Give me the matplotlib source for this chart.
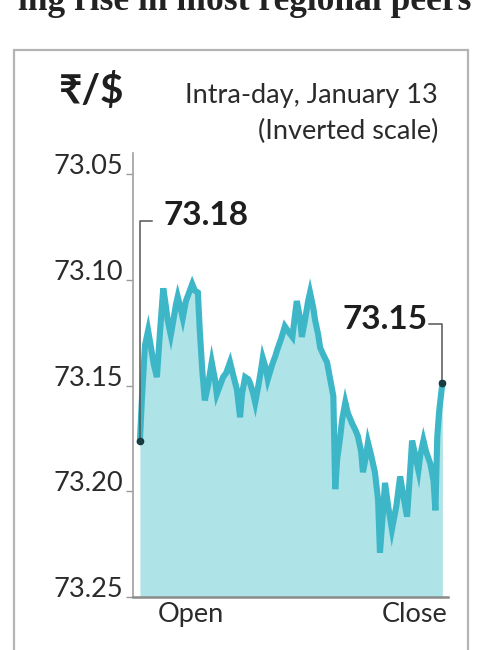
import matplotlib.pyplot as plt
from matplotlib.patches import Rectangle

# minutes since open and the rupee/dollar rate
minutes = [0, 3, 8, 13, 17, 22, 27, 32, 37, 41, 44, 49, 52, 57, 60, 65, 68, 73, 78, 83,
           87, 92, 95, 99, 103, 108, 114, 119, 122, 127, 132, 137, 143, 148, 154, 159, 162,
           167, 172, 175, 180, 183, 188, 192, 195, 200, 203, 210, 215, 218, 224, 230, 237,
           242, 246, 249, 254, 257, 262, 267, 270, 275, 278, 283, 286, 292, 297, 302, 307,
           310, 313, 318, 321, 326, 330, 337, 342, 346, 351, 354, 359, 362, 367, 373, 378,
           381, 386, 389, 394, 400, 407, 413, 418, 424, 429, 432, 437, 442, 445, 450, 454,
           461, 466, 469, 472, 475, 480]
rate = [73.176, 73.157, 73.131, 73.124, 73.131, 73.140, 73.146, 73.124, 73.104, 73.112,
        73.119, 73.126, 73.121, 73.112, 73.108, 73.114, 73.118, 73.110, 73.106, 73.102,
        73.105, 73.106, 73.124, 73.143, 73.157, 73.150, 73.139, 73.147, 73.154, 73.150,
        73.146, 73.144, 73.139, 73.145, 73.152, 73.165, 73.154, 73.146, 73.147, 73.149,
        73.154, 73.158, 73.150, 73.143, 73.137, 73.142, 73.147, 73.140, 73.136, 73.133,
        73.128, 73.122, 73.125, 73.127, 73.117, 73.110, 73.118, 73.127, 73.119, 73.110,
        73.106, 73.113, 73.119, 73.126, 73.132, 73.136, 73.139, 73.147, 73.155, 73.199,
        73.185, 73.174, 73.166, 73.158, 73.163, 73.168, 73.171, 73.174, 73.181, 73.191,
        73.183, 73.177, 73.183, 73.191, 73.204, 73.229, 73.209, 73.196, 73.207, 73.218,
        73.207, 73.193, 73.202, 73.212, 73.190, 73.176, 73.183, 73.190, 73.183, 73.176,
        73.181, 73.187, 73.195, 73.209, 73.174, 73.162, 73.149]
yticks = [73.05, 73.10, 73.15, 73.20, 73.25]
open_label = "73.18"
close_label = "73.15"

W, H = 481, 650
FONT = ['Lato', 'DejaVu Sans']
TXT = '#2b2b2b'
plt.rcParams['font.family'] = FONT


def fx(px):
    return px / W


def fy(py):
    return 1 - py / H


fig = plt.figure(figsize=(W / 100, H / 100), dpi=100)
fig.patch.set_facecolor('white')

# card border and the cut-off headline above it
fig.patches.append(Rectangle((fx(14), fy(670)), fx(468) - fx(14), fy(50) - fy(670),
                             transform=fig.transFigure, fill=False,
                             edgecolor='#b4b4b4', linewidth=1.6))
fig.text(fx(18), fy(10), "ing rise in most regional peers", family='Liberation Serif',
         fontweight='bold', fontsize=25.5, color='#222222', va='baseline', ha='left')

fig.text(fx(59), fy(103), "₹/$", fontsize=29, fontweight='bold', color='#1e1e1e',
         va='baseline', ha='left', family=['Lato', 'DejaVu Sans'])
fig.text(fx(438), fy(103), "Intra-day, January 13", fontsize=19.5, color=TXT,
         va='baseline', ha='right')
fig.text(fx(438), fy(139), "(Inverted scale)", fontsize=19.5, color=TXT,
         va='baseline', ha='right')

ax = fig.add_axes([fx(133), fy(597), fx(448) - fx(133), fy(153) - fy(597)])
ax.fill_between(minutes, rate, yticks[-1], color='#aee3e7', linewidth=0)
ax.plot(minutes, rate, color='#3db7c8', linewidth=4.4, solid_joinstyle='miter')
ax.set_xlim(-11, 489)
ax.set_ylim(yticks[-1], 73.04)

ax.set_yticks(yticks)
ax.set_yticklabels([f"{v:.2f}" for v in yticks], fontsize=19.5, color=TXT)
for lab in ax.get_yticklabels():
    lab.set_va('baseline')
ax.tick_params(axis='y', length=5, width=1, color='#9a9a9a', pad=2)
ax.set_xticks([])
for side in ['top', 'right']:
    ax.spines[side].set_visible(False)
ax.spines['left'].set_color('#a0a0a0')
ax.spines['left'].set_linewidth(1.2)
ax.spines['bottom'].set_color('#8a8a8a')
ax.spines['bottom'].set_linewidth(1.8)
ax.set_facecolor('none')

# open / close markers with bracket leaders
ax.plot([minutes[0], minutes[-1]], [rate[0], rate[-1]], 'o', color='#183c42',
        markersize=4.5, zorder=5)
y_open_lbl = 73.072
y_close_lbl = 73.121
ax.plot([minutes[0] + 19, minutes[0], minutes[0]], [y_open_lbl, y_open_lbl, rate[0]],
        color='#555555', linewidth=1.1, zorder=4)
ax.plot([minutes[-1] - 21, minutes[-1], minutes[-1]], [y_close_lbl, y_close_lbl, rate[-1]],
        color='#555555', linewidth=1.1, zorder=4)
ax.annotate(open_label, (minutes[0] + 19, y_open_lbl), xytext=(8, -3),
            textcoords='offset points', fontsize=24, fontweight='bold', color='#1e1e1e',
            va='baseline', ha='left')
ax.annotate(close_label, (minutes[-1] - 21, y_close_lbl), xytext=(-1, -3.5),
            textcoords='offset points', fontsize=24, fontweight='bold', color='#1e1e1e',
            va='baseline', ha='right')

ax.text(0.079, -0.012, "Open", transform=ax.transAxes, fontsize=19.5, color=TXT,
        ha='left', va='top')
ax.text(0.997, -0.012, "Close", transform=ax.transAxes, fontsize=19.5, color=TXT,
        ha='right', va='top')

fig.savefig('out.png', dpi=100)
